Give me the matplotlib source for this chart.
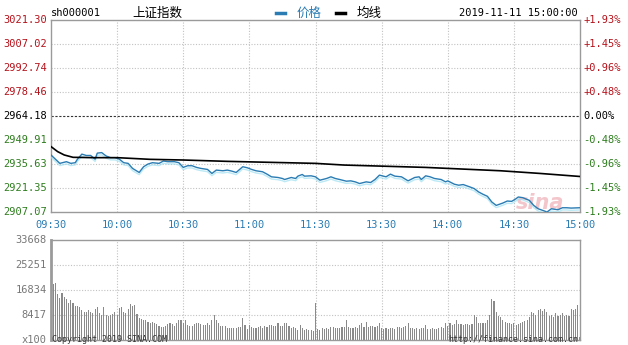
import matplotlib
matplotlib.use("Agg")
import matplotlib.pyplot as plt
import matplotlib.patheffects as pe
import numpy as np

# price line, minute index from 09:30 (0) to 15:00 (240)
price_t = [0, 4, 7, 9, 11, 12, 14, 16, 18, 20, 21, 23, 25, 27, 29, 31, 33, 35, 37, 40,
           42, 44, 46, 49, 51, 53, 56, 58, 60, 62, 64, 66, 68, 71, 73, 75, 78, 80, 82, 84,
           87, 89, 91, 93, 96, 98, 100, 103, 105, 106, 109, 111, 112, 114, 115, 118, 120,
           122, 125, 127, 129, 131, 134, 136, 138, 140, 143, 145, 147, 149, 152, 154, 156,
           159, 161, 162, 165, 167, 168, 170, 172, 174, 177, 179, 180, 183, 185, 187, 190,
           192, 194, 196, 198, 200, 202, 205, 207, 209, 211, 212, 214, 217, 219, 221, 224,
           225, 227, 230, 232, 234, 236, 240]
price = [2941.0, 2936.0, 2937.0, 2936.0, 2936.4, 2938.5, 2941.5, 2940.7, 2940.7, 2938.5,
         2942.1, 2942.4, 2940.4, 2939.4, 2939.4, 2938.5, 2936.4, 2936.0, 2933.0, 2930.6,
         2934.0, 2935.6, 2936.4, 2936.0, 2937.4, 2937.0, 2937.0, 2936.4, 2933.6, 2934.6,
         2934.6, 2933.6, 2933.0, 2932.4, 2930.0, 2932.0, 2931.6, 2932.0, 2931.4, 2930.6,
         2934.0, 2933.4, 2932.4, 2931.6, 2931.0, 2929.6, 2928.0, 2927.6, 2927.0, 2926.4,
         2927.6, 2927.0, 2928.4, 2929.4, 2928.4, 2928.6, 2928.0,
         2926.0, 2927.0, 2928.0, 2927.0, 2926.4, 2925.4, 2925.6, 2925.0, 2924.0, 2925.0,
         2924.6, 2926.4, 2929.0, 2928.0, 2929.6, 2928.4, 2928.0, 2926.4, 2925.6, 2927.6,
         2928.0, 2926.4, 2928.6, 2928.0, 2927.0, 2926.4, 2925.0, 2925.6, 2923.6, 2923.0,
         2923.4, 2922.0, 2921.0, 2919.0, 2917.6, 2916.4, 2913.0, 2911.0, 2912.4, 2913.6,
         2913.4, 2915.0, 2916.0, 2915.6, 2914.0, 2911.0, 2909.0, 2907.6, 2907.0, 2909.0,
         2908.4, 2909.6, 2909.6, 2909.4, 2909.6]

avg_t = [0, 3, 6, 10, 20, 30, 45, 60, 80, 100, 120, 133, 170, 204, 222, 240]
avg = [2946.0, 2943.0, 2941.0, 2939.6, 2939.4, 2939.4, 2938.4, 2938.0, 2937.2, 2936.6,
       2936.0, 2935.0, 2933.6, 2931.6, 2930.0, 2928.2]

# volume per minute (x100)
volume = [
    18750, 18750, 19300, 15380, 14030, 15930, 14590, 13690, 12350, 13470,
    12570, 11450, 11450, 11220, 10100, 9540, 9540, 10100, 9540, 9200,
    10330, 11000, 9200, 8420, 11220, 8420, 8080, 8420, 8750, 9540,
    8420, 10660, 11220, 9540, 8980, 10330, 12010, 11450, 11790, 8750,
    7300, 6960, 6730, 6730, 6170, 5830, 6170, 5610, 5390, 4710,
    4490, 4490, 4710, 5390, 5830, 5390, 4710, 5830, 6730, 6730,
    5610,
    6730, 5050, 4710, 4710, 5390, 5830, 5610, 5390, 5050, 5050,
    5610, 5050, 6730, 8420, 6730, 5610, 4710, 4710, 4710, 3930,
    3930, 3930, 3930, 3930, 4490, 4490, 7300, 5050, 3590, 5050,
    4490, 3930, 4150, 4490, 4710, 3930, 4710, 4490, 5050, 5050,
    4710, 4710, 5610, 4710, 4710, 5610, 5830, 4710, 3930, 4490,
    3930, 3370, 5050, 3930, 3370, 3700, 3370, 3370, 3140, 12570,
    3700, 3370, 3930, 3700, 3930, 3700, 4490, 4490, 3930, 4150,
    3930, 4490, 4490, 6730, 4490, 3930, 4150, 4490, 4150, 5050,
    5830, 4490, 6060, 4490, 4710, 4710, 4490, 4710, 5610, 3930,
    3700, 3930, 3700, 4150, 3930, 3700, 4490, 4490, 3930, 4490,
    4710, 5830, 3930, 4150, 3700, 3930, 3700, 4150, 3930, 5050,
    3700, 3700, 3930, 3700, 3700, 3930, 4490, 4150, 5610, 4710,
    5830, 5050, 5280, 6730, 5280, 5280, 5050, 5280, 5280, 5050,
    5280, 8420, 7630, 5830, 5610, 5610, 5610, 6730, 8420, 13920,
    13240, 9540, 8080, 7630, 6730, 6170, 5830, 5610, 5280, 5610,
    5050, 5280, 5610, 6170, 6510, 6730, 7630, 9540, 8980, 8420,
    10100, 10330, 9880, 10330, 9540, 8080, 8420, 7630, 8980, 8080,
    8420, 8980, 8080, 8420, 8080, 10440, 10100, 10330, 11780, 900,
]

time_labels = ["09:30", "10:00", "10:30", "11:00", "11:30",
               "13:30", "14:00", "14:30", "15:00"]
price_ticks = [3021.30, 3007.02, 2992.74, 2978.46, 2964.18,
               2949.91, 2935.63, 2921.35, 2907.07]
pct_labels = ["+1.93%", "+1.45%", "+0.96%", "+0.48%", "0.00%",
              "-0.48%", "-0.96%", "-1.45%", "-1.93%"]
vol_ticks = [8417, 16834, 25251, 33668]

RED = "#b5121b"
GREEN = "#2e7d1e"
BLUE = "#2a7cb3"
GRAYLINE = "#9a9a9a"
GRID = "#c2c2c2"
mono = "DejaVu Sans Mono"

W, H = 628, 345
fig = plt.figure(figsize=(W / 100, H / 100), dpi=100)
fig.patch.set_facecolor("white")

def box(x0, y0, x1, y1):
    return [x0 / W, 1 - y1 / H, (x1 - x0) / W, (y1 - y0) / H]

ax = fig.add_axes(box(51, 20, 580, 212))
axv = fig.add_axes(box(51, 240, 580, 340))

for a in (ax, axv):
    a.set_xlim(0, 240)
    for s in a.spines.values():
        s.set_color(GRAYLINE)
        s.set_linewidth(1.0)
    a.set_xticks([])
    a.set_yticks([])
    for i in range(1, 8):
        a.axvline(i * 30, color=GRID, lw=0.8, ls=(0, (1, 1.5)), zorder=0)
axv.spines["left"].set_linewidth(2.0)

# price panel
ax.set_ylim(price_ticks[-1], price_ticks[0])
for i, p in enumerate(price_ticks[1:-1], start=1):
    if i == 4:
        ax.axhline(p, color="#333333", lw=0.8, ls=(0, (2, 1.5)), zorder=0)
    else:
        ax.axhline(p, color=GRID, lw=0.8, ls=(0, (1, 1.5)), zorder=0)

ax.plot(price_t, price, color=BLUE, lw=1.0, zorder=3,
        path_effects=[pe.SimpleLineShadow(offset=(0, -1.6), shadow_color="#9fe0f2", alpha=0.7),
                      pe.Normal()])
ax.plot(avg_t, avg, color="black", lw=1.2, zorder=4)

ax.text(222, 2912.5, "sina", fontsize=15, fontstyle="italic", fontweight="bold",
        color="#f0b8bf", alpha=0.8, ha="center", va="center", zorder=1)

for i, p in enumerate(price_ticks):
    c = RED if i < 4 else ("black" if i == 4 else GREEN)
    ax.text(-0.008, p, f"{p:.2f}", transform=ax.get_yaxis_transform(), ha="right",
            va="center", fontsize=7.5, family=mono, color=c)
    ax.text(1.006, p, pct_labels[i], transform=ax.get_yaxis_transform(), ha="left",
            va="center", fontsize=7.5, family=mono, color=c)

for i, lab in enumerate(time_labels):
    ax.text(i * 30, -0.07, lab, transform=ax.get_xaxis_transform(), ha="center",
            va="center", fontsize=7.5, family=mono, color=BLUE)

# volume panel
axv.set_ylim(0, vol_ticks[-1])
for v in vol_ticks[:-1]:
    axv.axhline(v, color=GRID, lw=0.8, ls=(0, (1, 1.5)), zorder=0)
axv.bar(np.arange(len(volume)), volume, width=0.5, color="#8a8a8a", zorder=2)
for v in vol_ticks:
    axv.text(-0.008, v, str(v), transform=axv.get_yaxis_transform(), ha="right",
             va="center", fontsize=7.5, family=mono, color="#777777")
axv.text(-0.008, 0, "x100", transform=axv.get_yaxis_transform(), ha="right",
         va="center", fontsize=7.5, family=mono, color="#777777")

# header
fig.text(51 / W, 1 - 13 / H, "sh000001", fontsize=7.5, family=mono, va="center")
fig.text(132 / W, 1 - 13 / H, "上证指数", fontsize=9, family=["Noto Sans CJK SC", "DejaVu Sans"],
         va="center")
fig.add_artist(plt.Line2D([276 / W, 285 / W], [1 - 13 / H] * 2, color=BLUE, lw=2.5))
fig.text(297 / W, 1 - 13 / H, "价格", fontsize=9, family=["Noto Sans CJK SC", "DejaVu Sans"],
         va="center", color=BLUE)
fig.add_artist(plt.Line2D([336 / W, 345 / W], [1 - 13 / H] * 2, color="black", lw=2.5))
fig.text(357 / W, 1 - 13 / H, "均线", fontsize=9, family=["Noto Sans CJK SC", "DejaVu Sans"],
         va="center")
fig.text(578 / W, 1 - 13 / H, "2019-11-11 15:00:00", fontsize=7.5, family=mono,
         va="center", ha="right")

# footer along the bottom edge
fig.text(52 / W, 0.5 / H, "Copyright 2019 SINA.COM", fontsize=6, family=mono,
         va="bottom", color="#333333")
fig.text(578 / W, 0.5 / H, "http://finance.sina.com.cn", fontsize=6, family=mono,
         va="bottom", ha="right", color="#333333")

fig.savefig("out.png", dpi=100)
